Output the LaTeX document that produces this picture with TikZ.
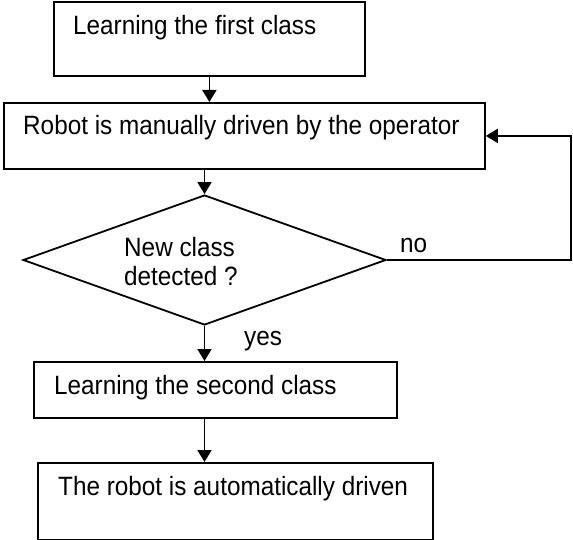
\documentclass[tikz,border=0pt]{standalone}
\usepackage{fontspec}
\setmainfont{Liberation Sans}
\usetikzlibrary{shapes.geometric,arrows.meta}
\newcommand{\tallt}[1]{\scalebox{1}[1.09]{#1}}
\begin{document}
\begin{tikzpicture}[x=1pt,y=-1pt,
  boxnode/.style={draw,line width=1.8pt,inner sep=0pt,anchor=north west},
  txt/.style={inner sep=0pt,anchor=base west,font=\fontsize{24.3pt}{29pt}\selectfont},
  decision/.style={draw,diamond,line width=1.8pt,inner sep=0pt,minimum width=363pt,minimum height=130pt},
  arr/.style={line width=1.8pt,-{Triangle[length=12pt,width=14pt]}}]
\useasboundingbox (0,0) rectangle (573,540);
% boxes
\node[boxnode,minimum width=311pt,minimum height=74pt] (b1) at (53,1) {};
\node[boxnode,minimum width=481pt,minimum height=66pt] (b2) at (3,102) {};
\node[decision] (d) at (204.5,260) {};
\node[boxnode,minimum width=363pt,minimum height=56pt] (b3) at (33,361) {};
\node[boxnode,minimum width=395pt,minimum height=77pt] (b4) at (37,462) {};
% texts
\node[txt] (t1) at (73,35) {\tallt{Learning the first class}};
\node[txt] (t2) at (23,135) {\tallt{Robot is manually driven by the operator}};
\node[txt] (t3a) at (124,256) {\tallt{New class}};
\node[txt] (t3b) at (124,285) {\tallt{detected ?}};
\node[txt] (t4) at (54,394) {\tallt{Learning the second class}};
\node[txt] (t5) at (58,495) {\tallt{The robot is automatically driven}};
\node[txt] (no) at (400,252) {\tallt{no}};
\node[txt] (yes) at (244,345) {\tallt{yes}};
% connectors
\coordinate (fb) at (571,0);
\draw[arr] (b1.south) -- (b1.south |- b2.north);
\draw[arr] (d.north |- b2.south) -- (d.north);
\draw[arr] (d.south) -- (d.south |- b3.north);
\draw[arr] (d.south |- b3.south) -- (d.south |- b4.north);
\draw[arr] (d.east) -- (d.east -| fb) -- (fb |- b2.east) -- (b2.east);
\end{tikzpicture}
\end{document}
